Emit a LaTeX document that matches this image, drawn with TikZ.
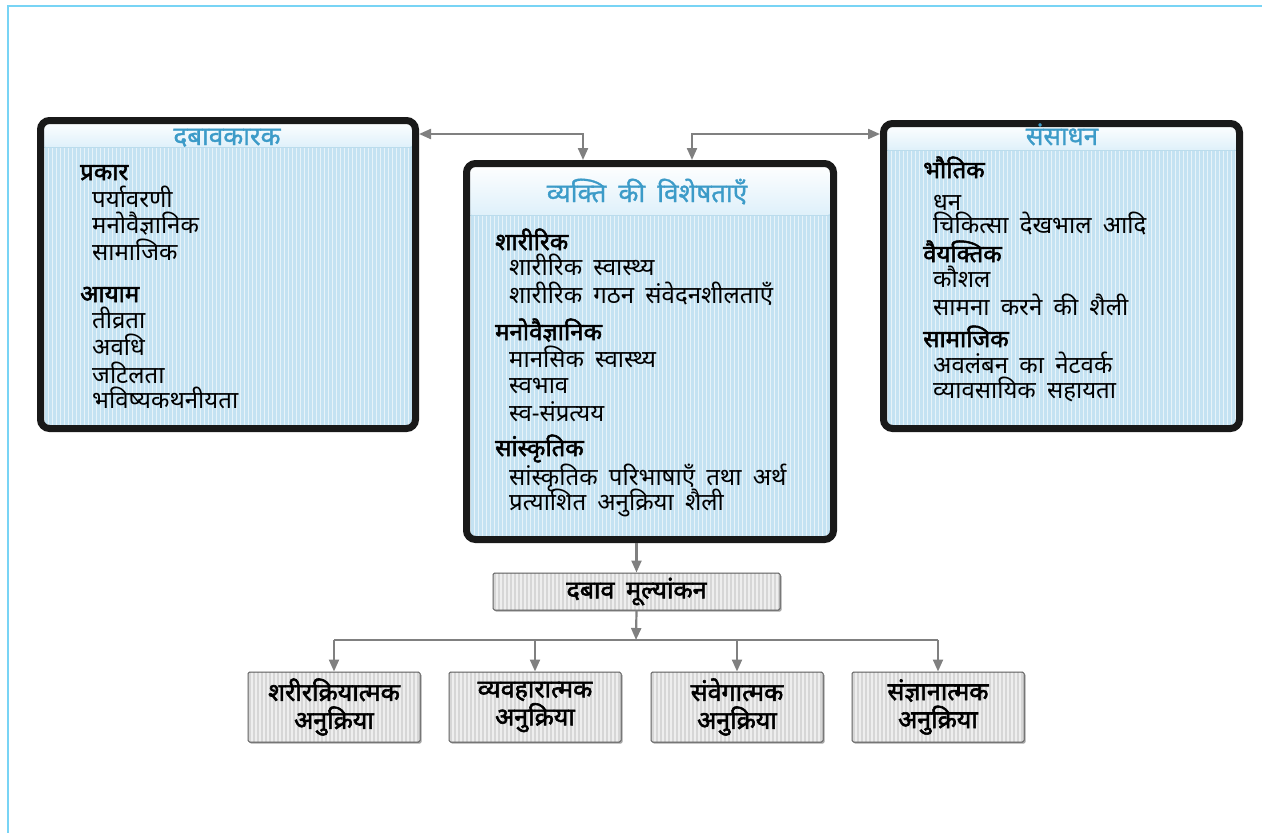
\documentclass[tikz,border=0pt]{standalone}
\usepackage{fontspec}
\newfontfamily\dev[Script=Devanagari, WordSpace=1.8]{Noto Sans}
\newfontfamily\devb[Script=Devanagari, WordSpace=1.8, FakeBold=2.2]{Noto Sans}
\newfontfamily\devt[Script=Devanagari, WordSpace=1.8, FakeBold=1.2]{Noto Sans}
\usetikzlibrary{arrows.meta,shadows}
\definecolor{framecol}{RGB}{120,212,245}
\definecolor{boxblack}{RGB}{25,25,25}
\definecolor{bodyblue}{RGB}{196,226,242}
\definecolor{headblue}{RGB}{222,240,250}
\definecolor{titleblue}{RGB}{60,155,200}
\definecolor{arrgray}{RGB}{128,128,128}
\definecolor{grayfill}{RGB}{214,214,214}
\definecolor{grayedge}{RGB}{90,90,90}
\newcommand{\fs}{\fontsize{24}{28}\selectfont}
\newcommand{\fb}{\fontsize{25}{28}\selectfont}
\newcommand{\ft}{\fontsize{26}{30}\selectfont}
\tikzset{
  bigbox/.style={draw=boxblack, line width=7pt, rounded corners=9pt, fill=bodyblue, inner sep=0pt,
    path picture={
      \foreach \k in {0,...,100}{\draw[white,opacity=0.6,line width=1.3pt]
        ([xshift=\k*4pt]path picture bounding box.south west) -- ([xshift=\k*4pt]path picture bounding box.north west);}
      \shade[top color=white, bottom color=headblue] (path picture bounding box.north west) rectangle ([yshift=-#1]path picture bounding box.north east);
      \draw[titleblue!35, line width=1pt] ([yshift=-#1]path picture bounding box.north west) -- ([yshift=-#1]path picture bounding box.north east);
    }},
  graybx/.style={draw=grayedge, line width=1pt, fill=grayfill, rounded corners=1.5pt, inner sep=0pt,
    drop shadow={shadow xshift=1.5pt, shadow yshift=-1.5pt, fill=black, opacity=0.35},
    align=center, font=\devb\fb,
    path picture={
      \foreach \k in {0,...,80}{\draw[white,opacity=0.6,line width=1.3pt]
        ([xshift=\k*4pt]path picture bounding box.south west) -- ([xshift=\k*4pt]path picture bounding box.north west);}
    }},
  item/.style={anchor=base west, inner sep=0pt, font=\dev\fs},
  headitem/.style={anchor=base west, inner sep=0pt, font=\devb\fs},
  titletxt/.style={anchor=base, inner sep=0pt, font=\devt\ft, text=titleblue},
  arr/.style={draw=arrgray, line width=2.2pt, -{Triangle[length=12pt,width=10pt]}},
  darr/.style={draw=arrgray, line width=2.2pt, {Triangle[length=12pt,width=10pt]}-{Triangle[length=12pt,width=10pt]}},
  plain/.style={draw=arrgray, line width=2.2pt},
}
\begin{document}
\begin{tikzpicture}[x=1pt,y=-1pt]
\useasboundingbox (0,0) rectangle (1262,833);
\draw[framecol, line width=2.5pt] (1262,6) -- (8,6) -- (8,833);

% big boxes
\node[bigbox=27pt, minimum width=375pt, minimum height=308pt] (lft) at (228,274.5) {};
\node[bigbox=52pt, minimum width=367pt, minimum height=376pt] (mid) at (650,351.5) {};
\node[bigbox=27pt, minimum width=356pt, minimum height=305pt] (rgt) at (1061.5,276) {};

% titles
\node[titletxt] (lt) at (227,145) {दबावकारक};
\node[titletxt] (mt) at (647,202) {व्यक्ति की विशेषताएँ};
\node[titletxt] (rt) at (1062,145) {संसाधन};

% left contents
\node[headitem] (l1) at (80,180) {प्रकार};
\node[item] (l2) at (92,207) {पर्यावरणी};
\node[item] (l3) at (92,233) {मनोवैज्ञानिक};
\node[item] (l4) at (92,260) {सामाजिक};
\node[headitem] (l5) at (80,302) {आयाम};
\node[item] (l6) at (92,328) {तीव्रता};
\node[item] (l7) at (92,355) {अवधि};
\node[item] (l8) at (92,383) {जटिलता};
\node[item] (l9) at (92,408) {भविष्यकथनीयता};

% middle contents
\node[headitem] (m1) at (495,250) {शारीरिक};
\node[item] (m2) at (509,275) {शारीरिक स्वास्थ्य};
\node[item] (m3) at (509,303) {शारीरिक गठन संवेदनशीलताएँ};
\node[headitem] (m4) at (495,340) {मनोवैज्ञानिक};
\node[item] (m5) at (509,367) {मानसिक स्वास्थ्य};
\node[item] (m6) at (509,393) {स्वभाव};
\node[item] (m7) at (509,421) {स्व-संप्रत्यय};
\node[headitem] (m8) at (495,456) {सांस्कृतिक};
\node[item] (m9) at (509,485) {सांस्कृतिक परिभाषाएँ तथा अर्थ};
\node[item] (m10) at (509,510) {प्रत्याशित अनुक्रिया शैली};

% right contents
\node[headitem] (r1) at (923,178) {भौतिक};
\node[item] (r2) at (933,210) {धन};
\node[item] (r3) at (933,233) {चिकित्सा देखभाल आदि};
\node[headitem] (r4) at (923,262) {वैयक्तिक};
\node[item] (r5) at (933,287) {कौशल};
\node[item] (r6) at (933,315) {सामना करने की शैली};
\node[headitem] (r7) at (923,347) {सामाजिक};
\node[item] (r8) at (933,373) {अवलंबन का नेटवर्क};
\node[item] (r9) at (933,398) {व्यावसायिक सहायता};

% appraisal and responses
\node[graybx, minimum width=287pt, minimum height=37pt] (dab) at (636.5,591.5) {दबाव मूल्यांकन};
\node[graybx, minimum width=172pt, minimum height=70pt] (b1) at (334,707) {शरीरक्रियात्मक\\अनुक्रिया};
\node[graybx, minimum width=172pt, minimum height=70pt] (b2) at (535,707) {व्यवहारात्मक\\अनुक्रिया};
\node[graybx, minimum width=172pt, minimum height=70pt] (b3) at (737,707) {संवेगात्मक\\अनुक्रिया};
\node[graybx, minimum width=172pt, minimum height=70pt] (b4) at (938,707) {संज्ञानात्मक\\अनुक्रिया};

% connectors
\coordinate (j1) at (583,134);
\coordinate (j2) at (692,134);
\coordinate (j3) at (636,640);
\draw[darr] (lft.east |- j1) -- (j1) -- (j1 |- mid.north);
\draw[darr] (j2 |- mid.north) -- (j2) -- (rgt.west |- j2);
\draw[arr] (mid.south -| dab.north) -- (dab.north);
\draw[plain] (b1.north |- j3) -- (b4.north |- j3);
\draw[arr] (dab.south) -- (j3);
\foreach \b in {b1,b2,b3,b4}{\draw[arr] (\b.north |- j3) -- (\b.north);}
\end{tikzpicture}
\end{document}
